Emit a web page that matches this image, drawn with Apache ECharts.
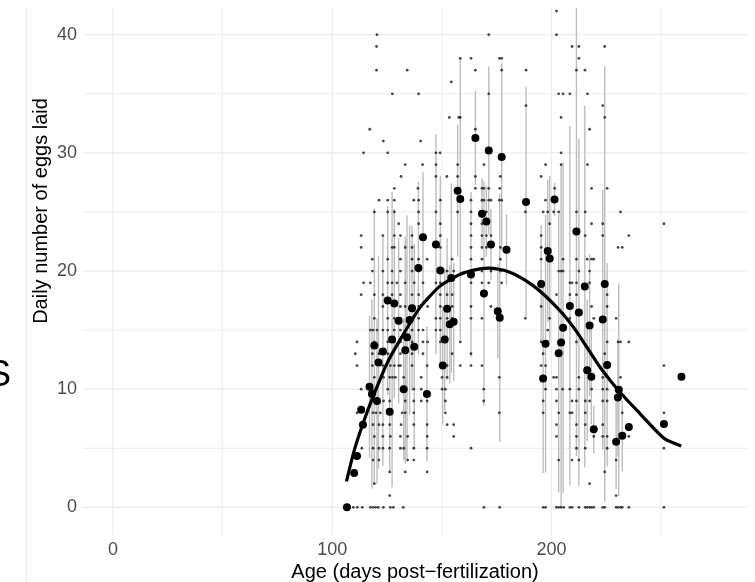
<!DOCTYPE html>
<html>
<head>
<meta charset="utf-8">
<script src="https://cdn.jsdelivr.net/npm/echarts@6/dist/echarts.min.js"></script>
<style>
html,body{margin:0;padding:0;background:#fff;}
#chart{width:755px;height:582px;}
</style>
</head>
<body>
<div id="chart"></div>
<script>
// ---------- data ----------
const xRange = [-13.7, 289.2];
const yRange = [-2.34, 42.26];
const xMajorTicks = [0, 100, 200];
const xMinorTicks = [50, 150, 250];
const yMajorTicks = [0, 10, 20, 30, 40];
const yMinorTicks = [5, 15, 25, 35];

const xTitle = 'Age (days post\u2212fertilization)';
const yTitle = 'Daily number of eggs laid';
const panelTag = 'S';

// individual daily observations: [eggs, [ages...]]
const observedByCount = [
  [0, [106.7,106.9,109.6,111.4,113.7,117.4,118.6,119.8,121.0,123.3,126.5,127.9,132.4,169.2,176.4,196.2,197.3,202.3,203.3,204.4,205.6,208.4,209.4,212.5,215.4,216.3,217.4,218.3,219.3,223.4,224.3,229.5,230.4,231.5,232.3,235.3,251.3]],
  [1, [126.2,229.5]],
  [2, [119.2,217.4]],
  [3, [126.2,133.3,143.3,224.3]],
  [4, [118.6,121.3,134.4,137.2,203.3,209.4,212.5,229.5]],
  [5, [113.5,118.6,121.3,123.1,126.2,131.1,132.6,137.2,143.3,163.3,211.4,215.4,225.4,251.3]],
  [6, [119.2,123.1,126.5,131.1,134.4,143.3,155.4,202.3,211.4,219.3,223.4,225.4,235.3]],
  [7, [113.5,118.6,121.3,123.1,126.2,131.4,137.2,143.3,152.4,155.4,202.3,211.4,215.4,223.4]],
  [8, [111.3,118.6,120.0,121.9,126.2,131.9,133.3,137.2,151.6,176.2,196.2,203.3,208.4,209.4,215.4,232.3,251.3]],
  [9, [119.2,123.4,126.2,133.3,137.2,140.6,143.3,151.6,169.1,196.2,202.3,209.4,211.4,215.4,217.4,223.4,225.4]],
  [10, [113.2,118.3,125.3,131.9,137.2,140.6,150.1,151.6,169.1,197.3,202.3,205.1,208.4,212.5,218.3,223.4,225.4]],
  [11, [119.2,123.4,126.2,127.5,128.8,132.6,140.6,150.1,152.4,176.2,201.0,202.3,212.5,223.4,231.5]],
  [12, [111.3,118.3,123.1,126.5,128.3,130.3,131.1,136.4,143.3,149.3,152.4,158.4,163.3,168.3,195.3,197.3,251.3]],
  [13, [110.5,118.3,121.3,125.3,131.1,136.4,141.4,154.7,163.3,196.2,224.3]],
  [14, [111.3,119.2,125.3,128.3,131.1,136.4,141.4,143.5,149.3,158.4,195.3,211.4,225.4,230.4,231.5,235.3]],
  [15, [117.4,118.6,120.4,123.1,125.3,128.3,131.1,136.4,139.4,141.4,147.3,149.3,198.3]],
  [16, [119.2,125.3,128.3,131.1,136.4,139.4,147.3,149.3,152.4,154.7,163.3,168.3,188.1,199.2,208.4,219.3,229.5]],
  [17, [123.1,131.1,133.3,139.4,143.5,149.3,152.4,154.7,163.3,172.4,195.3,218.3,225.4]],
  [18, [113.2,119.2,123.1,127.3,131.1,136.4,139.4,149.3,152.4,154.7,202.3,208.4,211.4,225.4]],
  [19, [114.3,117.4,125.3,127.3,129.5,133.3,137.4,141.4,147.3,149.3,163.3,168.3,171.4,177.3,208.4,209.4,211.4,217.4]],
  [20, [118.3,123.1,127.3,131.1,136.4,139.4,149.3,152.4,155.4,163.3,168.3,172.4,176.7,203.3,204.4,205.3,212.5,217.4]],
  [21, [118.3,125.3,131.1,136.4,139.4,143.3,154.7,163.3,168.3,176.7,195.3,205.3,211.4,216.3,218.3,219.3]],
  [22, [113.2,127.3,128.3,133.3,136.4,149.3,163.3,168.3,170.3,176.7,179.5,195.3,230.4,232.3]],
  [23, [113.2,123.1,128.3,131.1,136.4,149.3,163.3,168.3,170.3,172.4,195.3,215.4,223.4,235.3]],
  [24, [130.3,139.4,149.3,163.3,168.3,199.2,218.3,223.4,251.3]],
  [25, [119.2,125.3,128.3,139.4,147.3,157.2,163.3,168.3,170.3,188.1,196.2,198.3,201.0,203.3,211.4,215.4,231.5]],
  [26, [121.3,125.3,128.3,137.2,139.4,149.3,163.3,168.3,169.2,171.4,172.4,176.2,177.3,197.3,201.0]],
  [27, [128.3,139.1,165.3,168.3,169.2,171.4,176.4,201.5,218.3,225.4]],
  [28, [131.4,147.3,152.3,157.2,165.3,176.7,195.3]],
  [29, [133.3,141.2,147.3,157.2,169.2,197.3,204.4,216.4]],
  [30, [114.3,125.3,147.3,149.2,204.4]],
  [31, [123.3,140.3]],
  [32, [117.1,165.3,217.4]],
  [33, [153.4,157.7,158.4,204.4,224.3]],
  [34, [188.4,223.4]],
  [35, [127.4,139.4,171.4,203.3,205.3,208.4,216.4]],
  [36, [154.3]],
  [37, [120.2,134.2,165.3,177.3,188.4,211.4,215.3]],
  [38, [158.4,163.3,176.3,177.3,212.5]],
  [39, [120.2,209.4,212.5,224.3]],
  [40, [120.4,171.4,202.3]],
  [42, [202.3]]
];

// daily means with error-bar half widths
const meanAge = [106.7,110.0,111.3,113.2,114.0,117.0,118.1,119.2,120.4,121.1,123.1,125.3,126.2,127.3,128.3,130.3,132.6,133.3,134.1,135.3,136.4,137.4,139.3,141.4,143.2,147.3,149.3,150.4,151.3,152.4,153.6,154.3,155.4,157.2,158.4,163.3,165.3,168.3,169.2,170.3,171.4,172.4,175.5,176.4,177.3,179.5,188.4,195.3,196.2,197.3,198.3,199.2,201.4,203.3,204.4,205.3,208.4,211.4,212.5,215.2,216.3,217.4,218.2,219.3,223.4,224.3,225.4,229.5,230.3,230.7,232.3,235.3,251.3,259.3];
const meanEggs = [0.0,2.9,4.35,8.25,7.0,10.2,9.6,13.7,9.0,12.25,13.2,17.5,8.1,14.2,17.25,15.8,10.0,13.3,14.4,15.85,16.85,13.6,20.25,22.85,9.6,22.25,20.05,12.0,14.2,16.8,15.5,19.4,15.7,26.8,26.1,19.7,31.25,24.85,18.1,24.2,30.2,22.25,16.6,16.05,29.65,21.8,25.85,18.9,10.9,13.85,21.7,21.05,26.05,13.05,13.95,15.2,17.05,23.35,16.5,18.7,11.6,15.4,11.05,6.6,15.9,18.9,12.05,5.55,9.3,9.95,6.05,6.8,7.05,11.05];
const meanSpread = [0,0,0,0,0,6,8,11.6,7,9,9.7,8,5,12.5,8,7,6,9.6,10.3,8,7,8.7,7.3,5.5,5.7,9.3,8,5,6,6,5,8,5,5.6,11.9,7,4,3,9.5,3,7.1,3,4,10.5,7.9,3,9.75,5,8,10.9,6,7,1.4,11.8,15,14,15.2,19,14.7,15.3,6,6,4,2,11,18.4,8.6,4,5,9,3,0,0,0];

// fitted curve
const curveAge = [106.5,110,115,120,125,131,140,149,158,165,171,176,181,186,191,196,201,206,211,216,222,227,231.5,239,251.3,259.2];
const curveEggs = [2.2,4.8,7.6,10.0,12.2,14.2,16.9,18.7,19.7,20.1,20.25,20.15,19.9,19.45,18.85,18.1,17.2,16.2,15.0,13.6,11.9,10.7,9.7,8.2,5.85,5.2];

// ---------- build ----------
const FONT = '"Liberation Sans", Arial, Helvetica, sans-serif';
const obsPoints = [];
observedByCount.forEach(([n, ages]) => ages.forEach(a => obsPoints.push([a, n])));
const meanPoints = meanAge.map((a, i) => [a, meanEggs[i]]);
const barData = meanAge.map((a, i) => [a, Math.max(0, meanEggs[i] - meanSpread[i]), meanEggs[i] + meanSpread[i]]).filter((d, i) => meanSpread[i] > 0);
const curvePoints = curveAge.map((a, i) => [a, curveEggs[i]]);

function vGrid(major) {
  return function (params, api) {
    const cs = params.coordSys;
    const v = api.value(0);
    const p = api.coord([v, 0]);
    const children = [{
      type: 'line',
      shape: { x1: p[0], y1: cs.y, x2: p[0], y2: cs.y + cs.height },
      style: { stroke: '#ebebeb', lineWidth: major ? 1.2 : 0.9 }
    }];
    if (major) children.push({
      type: 'text',
      style: { text: String(v), x: p[0], y: cs.y + cs.height + 15, align: 'center', verticalAlign: 'middle', fill: '#4d4d4d', font: '18px ' + FONT }
    });
    return { type: 'group', children };
  };
}
function hGrid(major) {
  return function (params, api) {
    const cs = params.coordSys;
    const v = api.value(1);
    const p = api.coord([0, v]);
    const children = [{
      type: 'line',
      shape: { x1: cs.x, y1: p[1], x2: cs.x + cs.width, y2: p[1] },
      style: { stroke: '#ebebeb', lineWidth: major ? 1.2 : 0.9 }
    }];
    if (major) children.push({
      type: 'text',
      style: { text: String(v), x: cs.x - 6, y: p[1], align: 'right', verticalAlign: 'middle', fill: '#4d4d4d', font: '18px ' + FONT }
    });
    return { type: 'group', children };
  };
}

const chart = echarts.init(document.getElementById('chart'), null, { renderer: 'canvas' });
chart.setOption({
  animation: false,
  backgroundColor: '#ffffff',
  grid: { left: 83, right: 8, top: 8, bottom: 47, containLabel: false },
  xAxis: { type: 'value', min: xRange[0], max: xRange[1], show: false },
  yAxis: { type: 'value', min: yRange[0], max: yRange[1], show: false },
  graphic: [
    { type: 'line', shape: { x1: 26.5, y1: 8, x2: 26.5, y2: 582 }, style: { stroke: '#ededed', lineWidth: 1 }, silent: true },
    { type: 'text', style: { text: panelTag, x: -13, y: 376, verticalAlign: 'middle', fill: '#000', font: '36px ' + FONT } },
    { type: 'text', rotation: Math.PI / 2, x: 41, y: 211, style: { text: yTitle, x: 0, y: 0, align: 'center', verticalAlign: 'middle', fill: '#000', font: '20px ' + FONT } },
    { type: 'text', style: { text: xTitle, x: 415, y: 572, align: 'center', verticalAlign: 'middle', fill: '#000', font: '20px ' + FONT } }
  ],
  series: [
    { type: 'custom', z: 0, silent: true, clip: false, data: xMinorTicks.map(v => [v, 0]), renderItem: vGrid(false), encode: { x: 0, y: 1 } },
    { type: 'custom', z: 0, silent: true, clip: false, data: xMajorTicks.map(v => [v, 0]), renderItem: vGrid(true), encode: { x: 0, y: 1 } },
    { type: 'custom', z: 0, silent: true, clip: false, data: yMinorTicks.map(v => [0, v]), renderItem: hGrid(false), encode: { x: 0, y: 1 } },
    { type: 'custom', z: 0, silent: true, clip: false, data: yMajorTicks.map(v => [0, v]), renderItem: hGrid(true), encode: { x: 0, y: 1 } },
    {
      type: 'custom', z: 1, clip: true, data: barData, encode: { x: 0, y: [1, 2] },
      renderItem: function (params, api) {
        const lo = api.coord([api.value(0), api.value(1)]);
        const hi = api.coord([api.value(0), api.value(2)]);
        return { type: 'line', shape: { x1: lo[0], y1: lo[1], x2: hi[0], y2: hi[1] }, style: { stroke: '#bdbdbd', lineWidth: 1.4 } };
      }
    },
    { type: 'scatter', z: 2, data: obsPoints, symbol: 'circle', symbolSize: 2.8, itemStyle: { color: 'rgba(25,25,25,0.8)', opacity: 1 } },
    { type: 'line', z: 3, data: curvePoints, smooth: 0.2, showSymbol: false, lineStyle: { color: '#000', width: 3.2 } },
    { type: 'scatter', z: 4, data: meanPoints, symbol: 'circle', symbolSize: 8, itemStyle: { color: '#000', opacity: 1 } }
  ]
});
</script>
</body>
</html>
